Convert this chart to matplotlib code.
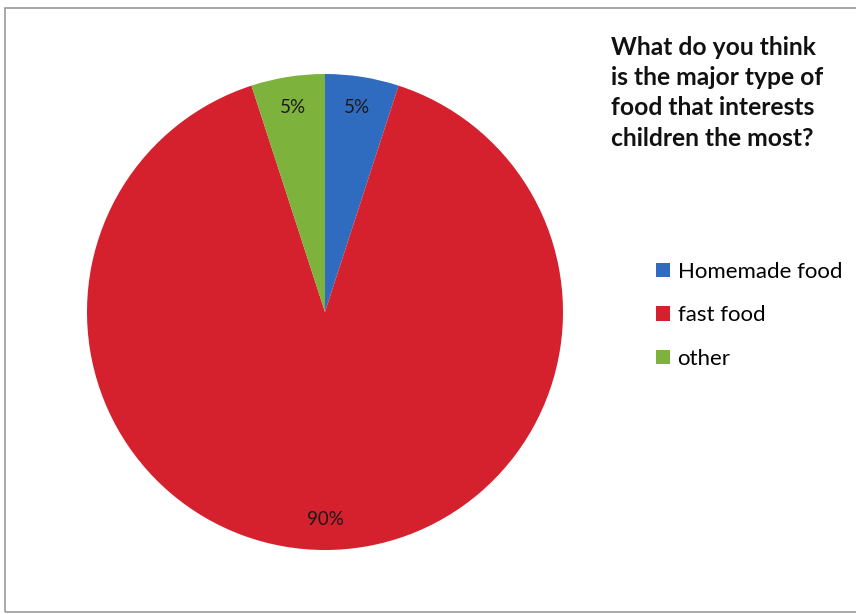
import matplotlib.pyplot as plt
from matplotlib.patches import Rectangle

# survey answers
labels = ["Homemade food", "fast food", "other"]
shares = [5, 90, 5]
colors = ["#2f6cc0", "#d5202e", "#7db33c"]

title = "What do you think\nis the major type of\nfood that interests\nchildren the most?"

plt.rcParams["font.family"] = ["Lato", "DejaVu Sans"]

W, H = 856, 614
fig = plt.figure(figsize=(W / 100, H / 100), dpi=100)

# frame around the chart area
fig.patches.append(
    Rectangle((5 / W, 1 - 612 / H), 860 / W, 604 / H, transform=fig.transFigure,
              fill=False, edgecolor="#9a9a9a", linewidth=1.2)
)

# pie centred at (325, 312) px with radius 238 px
cx, cy, r = 325, 312, 238
ax = fig.add_axes([(cx - r) / W, 1 - (cy + r) / H, 2 * r / W, 2 * r / H])
wedges, texts, autotexts = ax.pie(
    shares,
    colors=colors,
    startangle=90,
    counterclock=False,
    autopct="%d%%",
    pctdistance=0.87,
    radius=1,
    wedgeprops={"linewidth": 0},
    textprops={"fontsize": 13.5, "color": "#1a1a1a"},
)
ax.set_xlim(-1, 1)
ax.set_ylim(-1, 1)
ax.axis("off")

fig.text(611 / W, 1 - 36 / H, title, ha="left", va="top", fontsize=17.7,
         fontweight="bold", linespacing=1.38, color="#111111")

fig.legend(
    wedges, labels,
    loc="upper left",
    bbox_to_anchor=(656 / W, 1 - 262 / H),
    frameon=False,
    fontsize=16,
    handlelength=0.62,
    handleheight=0.62,
    handletextpad=0.35,
    labelspacing=1.05,
    borderaxespad=0,
    borderpad=0,
)

fig.savefig("out.png", dpi=100)
